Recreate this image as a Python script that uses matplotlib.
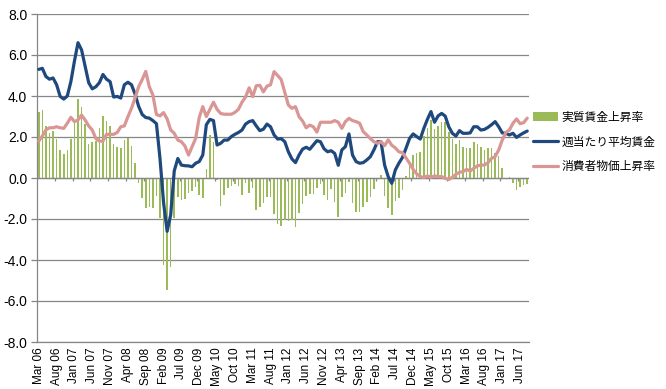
import numpy as np
import matplotlib
matplotlib.use('Agg')
import matplotlib.pyplot as plt

plt.rcParams['font.family'] = ['Liberation Sans', 'Noto Sans CJK JP', 'DejaVu Sans']

# monthly data, Mar 06 .. Aug 17
real_wage = [3.23, 3.32, 2.54, 2.19, 2.31, 1.90, 1.37, 1.17, 1.37, 1.90,
             2.75, 3.85, 3.46, 2.62, 1.66, 1.76, 1.80, 2.45, 3.02, 2.80,
             2.55, 1.66, 1.52, 1.48, 1.87, 1.97, 1.56, 0.73, -0.23, -0.96,
             -1.48, -1.43, -1.45, -0.86, -1.97, -4.26, -5.48, -4.36, -1.97, -0.92,
             -1.08, -1.00, -0.74, -0.62, -0.46, -0.85, -0.97, 0.45, 2.10, 1.74,
             -0.08, -1.38, -0.82, -0.50, -0.37, -0.30, -0.37, -0.82, -0.25, -0.72,
             -0.50, -1.58, -1.42, -1.20, -0.95, -0.95, -1.78, -2.26, -2.32, -2.05,
             -2.12, -2.03, -2.40, -1.70, -1.29, -0.89, -0.78, -0.76, -0.51, -0.29,
             -0.82, -1.06, -0.53, -1.16, -1.90, -0.94, -0.75, -0.18, -1.24, -1.64,
             -1.64, -1.43, -1.15, -0.91, -0.55, 0.02, 0.15, -0.90, -1.45, -1.80,
             -1.10, -0.97, -0.58, 0.10, 0.60, 1.10, 1.20, 1.28, 2.05, 2.45,
             2.84, 2.40, 2.54, 2.75, 2.75, 2.26, 1.89, 1.66, 1.86, 1.53,
             1.45, 1.45, 1.76, 1.66, 1.53, 1.37, 1.45, 1.45, 1.20, 1.07,
             0.49, 0.02, 0.05, -0.26, -0.58, -0.42, -0.32, -0.29]

weekly_pay = [5.30, 5.35, 4.95, 4.82, 4.88, 4.55, 3.98, 3.85, 4.00, 4.70,
              5.70, 6.60, 6.25, 5.45, 4.65, 4.35, 4.45, 4.65, 5.05, 4.82,
              4.70, 3.95, 3.98, 3.90, 4.55, 4.67, 4.55, 4.10, 3.50, 3.10,
              2.95, 2.92, 2.80, 2.65, 0.95, -1.20, -2.60, -1.80, 0.35, 0.95,
              0.63, 0.60, 0.59, 0.55, 0.72, 0.80, 1.12, 2.60, 2.86, 2.80,
              1.61, 1.69, 1.85, 1.85, 2.02, 2.13, 2.22, 2.34, 2.63, 2.75,
              2.80, 2.54, 2.31, 2.38, 2.63, 2.50, 2.10, 1.90, 1.92, 1.77,
              1.28, 0.93, 0.75, 1.12, 1.41, 1.50, 1.40, 1.61, 1.82, 1.77,
              1.43, 1.28, 1.33, 1.20, 0.62, 1.37, 1.53, 2.15, 1.12, 0.80,
              0.72, 0.75, 0.88, 1.04, 1.37, 1.77, 1.77, 0.63, 0.07, -0.26,
              0.39, 0.72, 1.00, 1.45, 1.93, 2.15, 2.02, 1.90, 2.42, 2.86,
              3.24, 2.72, 3.03, 3.15, 3.02, 2.50, 2.18, 2.05, 2.31, 2.18,
              2.18, 2.20, 2.50, 2.50, 2.34, 2.37, 2.47, 2.60, 2.75, 2.50,
              2.20, 2.18, 2.10, 2.18, 1.98, 2.10, 2.20, 2.29]

cpi = [1.80, 2.05, 2.35, 2.45, 2.45, 2.50, 2.45, 2.42, 2.67, 2.96,
       2.75, 2.83, 3.07, 2.83, 2.54, 2.34, 1.93, 1.80, 1.80, 2.13,
       2.13, 2.13, 2.22, 2.50, 2.54, 2.99, 3.40, 3.90, 4.45, 4.80,
       5.20, 4.45, 4.05, 3.10, 3.03, 3.19, 2.88, 2.34, 2.18, 1.85,
       1.77, 1.56, 1.12, 1.53, 1.93, 2.95, 3.48, 3.00, 3.35, 3.70,
       3.35, 3.15, 3.11, 3.11, 3.11, 3.20, 3.35, 3.70, 3.95, 4.40,
       3.97, 4.50, 4.52, 4.20, 4.48, 4.55, 5.19, 5.00, 4.80, 4.18,
       3.56, 3.40, 3.48, 2.99, 2.78, 2.45, 2.58, 2.50, 2.24, 2.72,
       2.72, 2.72, 2.72, 2.80, 2.72, 2.42, 2.75, 2.91, 2.80, 2.75,
       2.67, 2.26, 2.10, 1.92, 1.77, 1.69, 1.77, 1.58, 1.86, 1.60,
       1.47, 1.28, 1.24, 0.98, 0.72, 0.42, 0.20, 0.07, 0.02, 0.10,
       0.03, 0.10, 0.07, 0.07, -0.02, -0.07, 0.03, 0.18, 0.28, 0.31,
       0.42, 0.34, 0.47, 0.59, 0.63, 0.63, 0.75, 0.96, 1.04, 1.37,
       1.85, 2.22, 2.34, 2.67, 2.88, 2.65, 2.70, 2.92]

tick_labels = ['Mar 06', 'Aug 06', 'Jan 07', 'Jun 07', 'Nov 07', 'Apr 08', 'Sep 08',
               'Feb 09', 'Jul 09', 'Dec 09', 'May 10', 'Oct 10', 'Mar 11', 'Aug 11',
               'Jan 12', 'Jun 12', 'Nov 12', 'Apr 13', 'Sep 13', 'Feb 14', 'Jul 14',
               'Dec 14', 'May 15', 'Oct 15', 'Mar 16', 'Aug 16', 'Jan 17', 'Jun 17']

names = ['実質賃金上昇率', '週当たり平均賃金', '消費者物価上昇率']

grid_col = '#868686'
x = np.arange(len(real_wage))

fig = plt.figure(figsize=(6.66, 3.89), dpi=100)
ax = fig.add_axes([37/666, 1 - 342/389, (529 - 37)/666, (342 - 14)/389])

bars = ax.bar(x, real_wage, width=0.45, color='#9BBB59', zorder=2)
ax.axhline(0, color=grid_col, lw=0.9, zorder=3)
# tick marks on the zero line, every 5 months
bounds = np.arange(5, len(x), 5) - 0.5
ax.vlines(bounds, -0.17, 0, color=grid_col, lw=0.9, zorder=3)
line_pay, = ax.plot(x, weekly_pay, color='#1F497D', lw=2.3, zorder=4,
                    solid_joinstyle='round', solid_capstyle='round')
line_cpi, = ax.plot(x, cpi, color='#D99694', lw=2.3, zorder=5,
                    solid_joinstyle='round', solid_capstyle='round')

ax.set_xlim(-0.5, len(x) - 0.5)
ax.set_ylim(-8, 8)
ax.set_yticks(np.arange(-8, 8.1, 2))
ax.set_yticklabels(['%.1f' % v for v in np.arange(-8, 8.1, 2)], fontsize=10)
ax.set_xticks(np.arange(0, len(x), 5))
ax.set_xticklabels(tick_labels, rotation=90, fontsize=8.5)
ax.tick_params(axis='x', length=0, pad=4)
ax.tick_params(axis='y', length=4, color=grid_col, width=0.9, pad=3)
ax.yaxis.grid(True, color=grid_col, lw=0.9, zorder=0)
ax.set_axisbelow(True)
for s in ['top', 'right']:
    ax.spines[s].set_visible(False)
ax.spines['left'].set_color(grid_col)
ax.spines['bottom'].set_color(grid_col)
ax.spines['left'].set_linewidth(0.9)
ax.spines['bottom'].set_linewidth(0.9)

fig.legend([bars, line_pay, line_cpi], names, loc='center left',
           bbox_to_anchor=(533/666, 1 - 142/389), frameon=False,
           borderpad=0, borderaxespad=0,
           handlelength=2.1, handletextpad=0.3, labelspacing=1.0,
           prop={'family': ['Noto Sans CJK JP', 'DejaVu Sans'], 'size': 8.5})

fig.savefig('out.png', dpi=100)
